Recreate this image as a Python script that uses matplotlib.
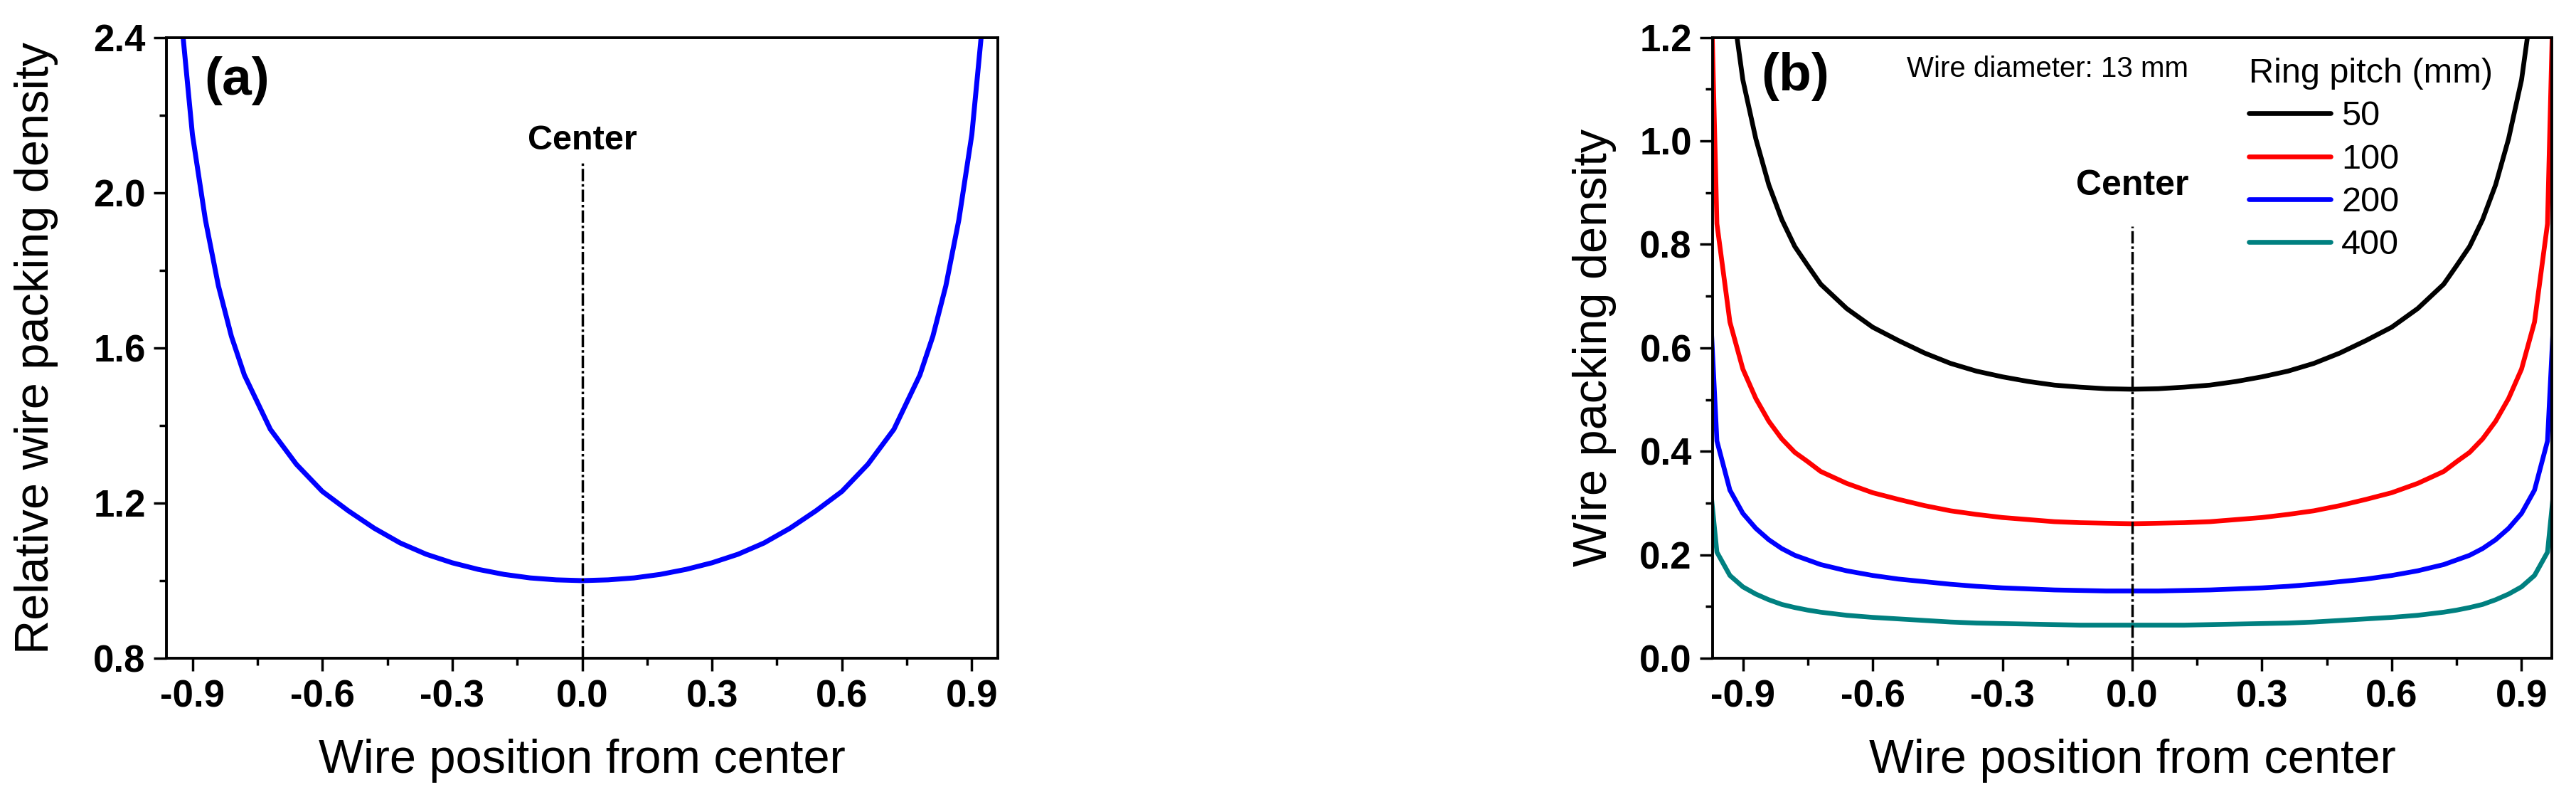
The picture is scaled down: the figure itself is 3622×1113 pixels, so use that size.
import matplotlib
matplotlib.use("Agg")
import matplotlib.pyplot as plt
from matplotlib.ticker import MultipleLocator, FormatStrFormatter

plt.rcParams['font.family'] = ['Liberation Sans', 'DejaVu Sans']
plt.rcParams['axes.unicode_minus'] = False

# ---------------- data ----------------
x_pos = [-0.99, -0.96, -0.93, -0.90, -0.87, -0.84, -0.81, -0.78, -0.75, -0.72,
         -0.66, -0.60, -0.54, -0.48, -0.42, -0.36, -0.30, -0.24, -0.18, -0.12,
         -0.06, 0.00, 0.06, 0.12, 0.18, 0.24, 0.30, 0.36, 0.42, 0.48, 0.54,
         0.60, 0.66, 0.72, 0.75, 0.78, 0.81, 0.84, 0.87, 0.90, 0.93, 0.96, 0.99]

rel_density = [7.10, 3.23, 2.50, 2.15, 1.93, 1.76, 1.63, 1.53, 1.46, 1.39,
               1.30, 1.23, 1.18, 1.135, 1.097, 1.068, 1.046, 1.029, 1.016, 1.007,
               1.002, 1.000, 1.002, 1.007, 1.016, 1.029, 1.046, 1.068, 1.097, 1.135,
               1.18, 1.23, 1.30, 1.39, 1.46, 1.53, 1.63, 1.76, 1.93, 2.15, 2.50, 3.23, 7.10]

pitch_50 = [3.69, 1.68, 1.30, 1.118, 1.004, 0.915, 0.848, 0.796, 0.759, 0.723,
            0.676, 0.640, 0.614, 0.590, 0.570, 0.555, 0.544, 0.535, 0.528, 0.524,
            0.521, 0.520, 0.521, 0.524, 0.528, 0.535, 0.544, 0.555, 0.570, 0.590,
            0.614, 0.640, 0.676, 0.723, 0.759, 0.796, 0.848, 0.915, 1.004, 1.118,
            1.30, 1.68, 3.69]

pitch_100 = [1.85, 0.840, 0.650, 0.559, 0.502, 0.458, 0.424, 0.398, 0.380, 0.361,
             0.338, 0.320, 0.307, 0.295, 0.285, 0.278, 0.272, 0.268, 0.264, 0.262,
             0.261, 0.260, 0.261, 0.262, 0.264, 0.268, 0.272, 0.278, 0.285, 0.295,
             0.307, 0.320, 0.338, 0.361, 0.380, 0.398, 0.424, 0.458, 0.502, 0.559,
             0.650, 0.840, 1.85]

pitch_200 = [0.923, 0.420, 0.325, 0.280, 0.251, 0.229, 0.212, 0.199, 0.190, 0.181,
             0.169, 0.160, 0.153, 0.148, 0.143, 0.139, 0.136, 0.134, 0.132, 0.131,
             0.130, 0.130, 0.130, 0.131, 0.132, 0.134, 0.136, 0.139, 0.143, 0.148,
             0.153, 0.160, 0.169, 0.181, 0.190, 0.199, 0.212, 0.229, 0.251, 0.280,
             0.325, 0.420, 0.923]

pitch_400 = [0.455, 0.205, 0.160, 0.138, 0.124, 0.113, 0.104, 0.098, 0.093, 0.089,
             0.083, 0.079, 0.076, 0.073, 0.070, 0.068, 0.067, 0.066, 0.065, 0.064,
             0.064, 0.064, 0.064, 0.064, 0.065, 0.066, 0.067, 0.068, 0.070, 0.073,
             0.076, 0.079, 0.083, 0.089, 0.093, 0.098, 0.104, 0.113, 0.124, 0.138,
             0.160, 0.205, 0.455]

series_labels = ['50', '100', '200', '400']
series_colors = ['#000000', '#ff0000', '#0000ff', '#008080']
series_values = [pitch_50, pitch_100, pitch_200, pitch_400]

x_ticks = [-0.9, -0.6, -0.3, 0.0, 0.3, 0.6, 0.9]
ya_ticks = [0.8, 1.2, 1.6, 2.0, 2.4]
yb_ticks = [0.0, 0.2, 0.4, 0.6, 0.8, 1.0, 1.2]

# ---------------- figure ----------------
W, H = 3622, 1113
fig = plt.figure(figsize=(W / 100, H / 100), dpi=100)

axa = fig.add_axes([234 / W, 1 - 925 / H, 1169 / W, 872.3 / H])
axb = fig.add_axes([2408 / W, 1 - 925 / H, 1180 / W, 872.3 / H])

TICK_FS = 38
LABEL_FS = 48


def style_axes(ax, xlim, ylim, yticks, yminor):
    ax.set_xlim(*xlim)
    ax.set_ylim(*ylim)
    ax.set_xticks(x_ticks)
    ax.set_yticks(yticks)
    ax.xaxis.set_minor_locator(MultipleLocator(0.15))
    ax.yaxis.set_minor_locator(MultipleLocator(yminor))
    ax.xaxis.set_major_formatter(FormatStrFormatter('%.1f'))
    ax.yaxis.set_major_formatter(FormatStrFormatter('%.1f'))
    for s in ax.spines.values():
        s.set_linewidth(2.8)
    ax.tick_params(which='both', direction='out', top=False, right=False,
                   width=2.5)
    ax.tick_params(which='major', length=13, pad=8, labelsize=TICK_FS)
    ax.tick_params(which='minor', length=7)
    for lab in ax.get_xticklabels() + ax.get_yticklabels():
        lab.set_fontweight('bold')


# ---- panel (a) ----
axa.plot(x_pos, rel_density, color='#0000ff', lw=5)
style_axes(axa, (-0.96, 0.96), (0.8, 2.4), ya_ticks, 0.2)
axa.plot([0, 0], [0.8, 2.081], color='black', lw=2.5,
         linestyle=(0, (5, 1.2, 1, 1.2)))
axa.text(0, 2.111, 'Center', ha='center', va='baseline', fontsize=35,
         fontweight='bold')
axa.text(0.0453, 0.908, '(a)', transform=axa.transAxes, ha='left',
         va='baseline', fontsize=54, fontweight='bold')
axa.set_xlabel('Wire position from center', fontsize=LABEL_FS)
axa.set_ylabel('Relative wire packing density', fontsize=LABEL_FS)
axa.xaxis.set_label_coords(0.5, -0.129)
axa.yaxis.set_label_coords(-0.130, 0.5)

# ---- panel (b) ----
for vals, col, lab in zip(series_values, series_colors, series_labels):
    axb.plot(x_pos, vals, color=col, lw=4.8, label=lab,
             solid_capstyle='round')
style_axes(axb, (-0.97, 0.97), (0.0, 1.2), yb_ticks, 0.1)
axb.plot([0, 0], [0.0, 0.835], color='black', lw=2.5,
         linestyle=(0, (5, 1.2, 1, 1.2)))
axb.text(0, 0.896, 'Center', ha='center', va='baseline', fontsize=36,
         fontweight='bold')
axb.text(0.0576, 0.915, '(b)', transform=axb.transAxes, ha='left',
         va='baseline', fontsize=54, fontweight='bold')
axb.text(0.231, 0.9366, 'Wire diameter: 13 mm', transform=axb.transAxes,
         ha='left', va='baseline', fontsize=29)
axb.set_xlabel('Wire position from center', fontsize=LABEL_FS)
axb.set_ylabel('Wire packing density', fontsize=LABEL_FS)
axb.xaxis.set_label_coords(0.5, -0.129)
axb.yaxis.set_label_coords(-0.1144, 0.5)

leg = axb.legend(title='Ring pitch (mm)', loc='upper left',
                 bbox_to_anchor=(0.639, 0.9676), frameon=False, fontsize=35,
                 title_fontsize=35, handlelength=2.37, handletextpad=0.31,
                 labelspacing=0.315, borderpad=0, borderaxespad=0,
                 alignment='left')

fig.savefig('out.png', dpi=100)
